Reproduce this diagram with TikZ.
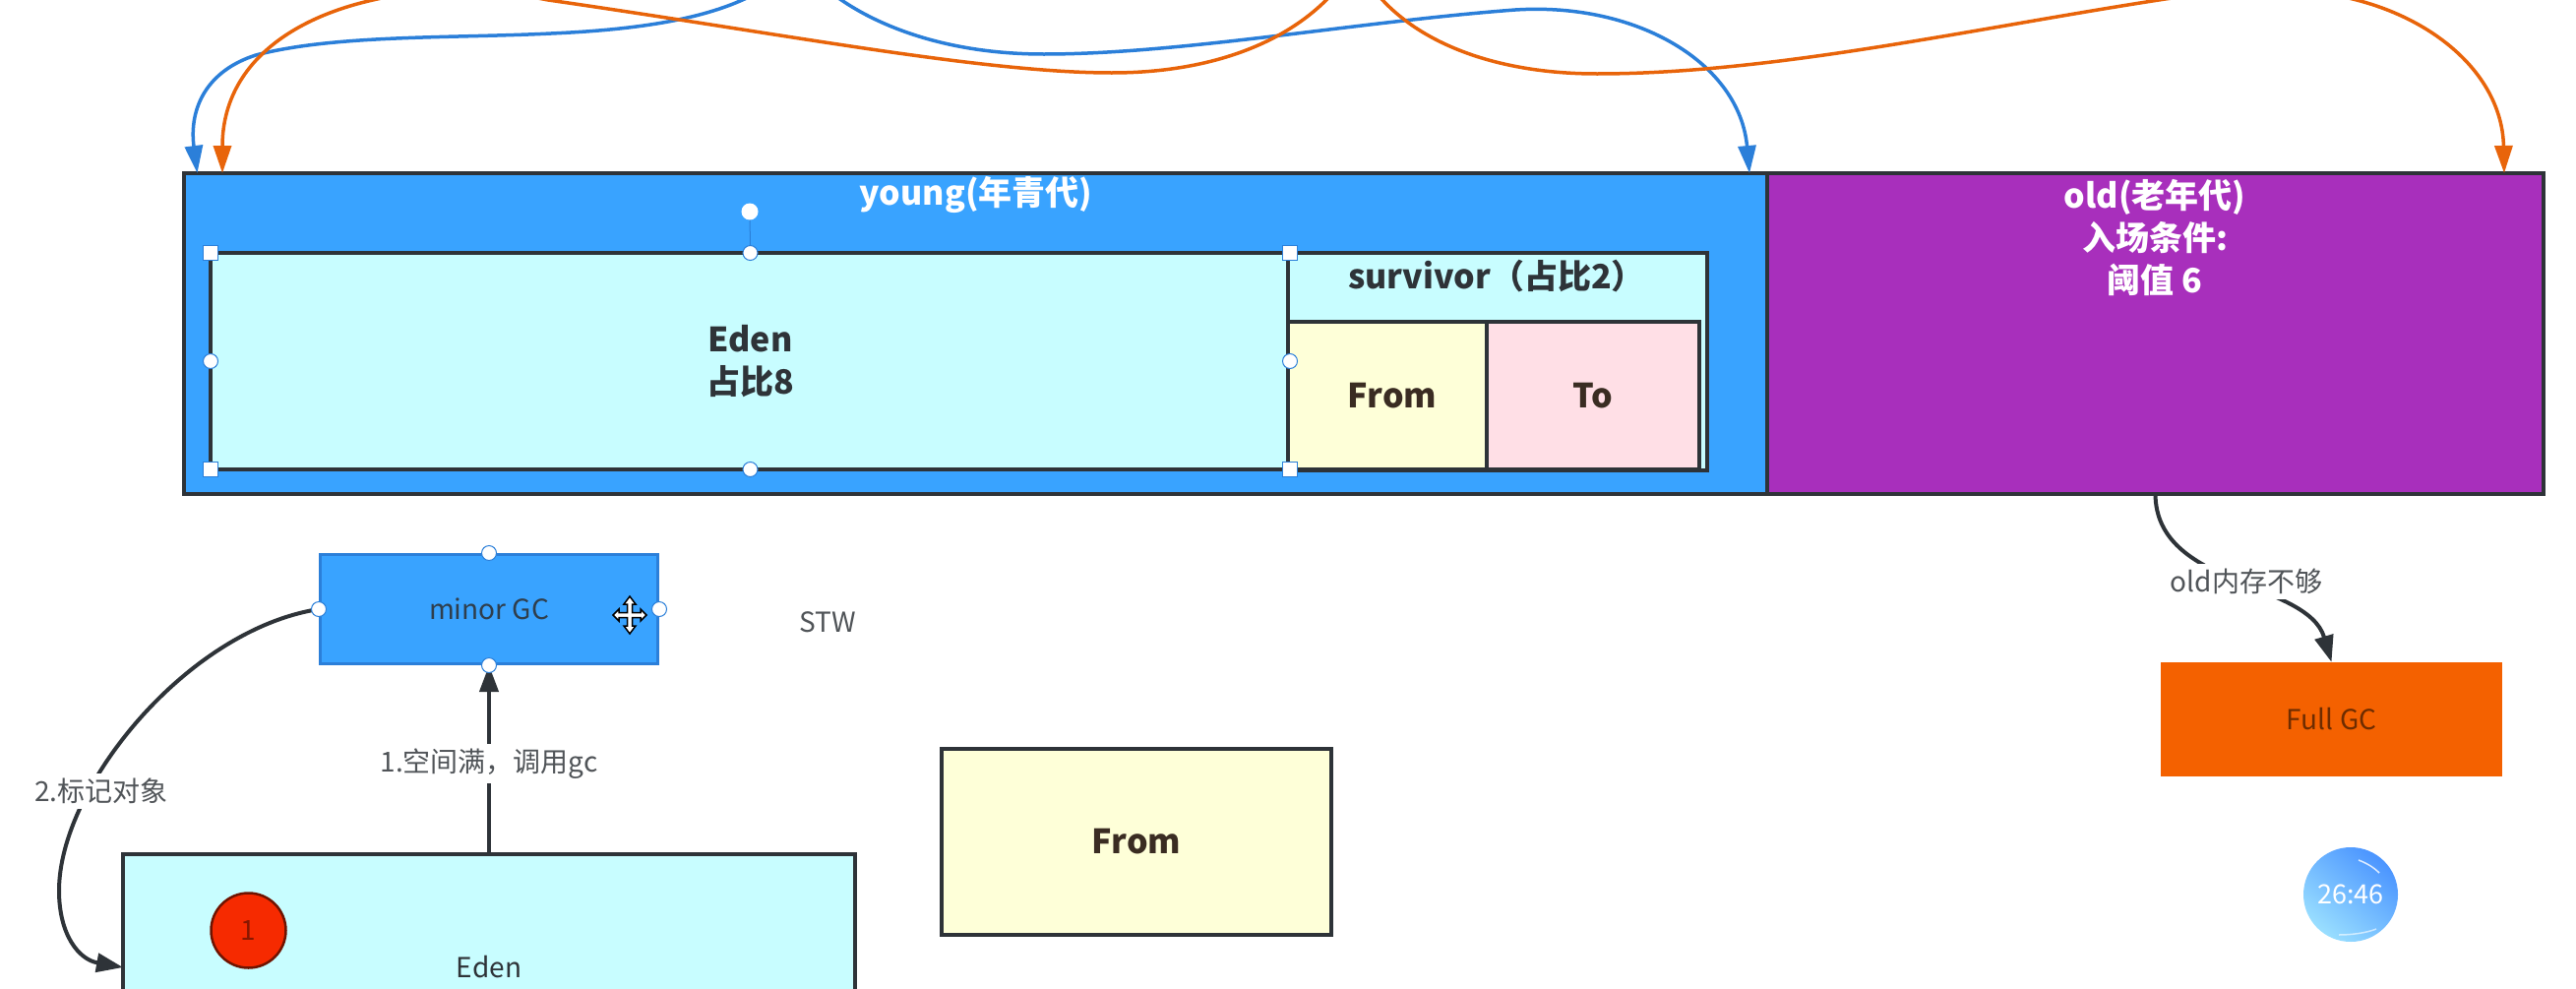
\documentclass[tikz,border=0pt]{standalone}
\usepackage{fontspec}
\setmainfont{Noto Sans CJK SC}
\usetikzlibrary{arrows.meta,calc}

\definecolor{youngblue}{HTML}{39A3FF}
\definecolor{oldpurple}{HTML}{A82FBC}
\definecolor{edencyan}{HTML}{C8FDFF}
\definecolor{fromyellow}{HTML}{FEFFD8}
\definecolor{topink}{HTML}{FFDFE6}
\definecolor{fullorange}{HTML}{F46100}
\definecolor{edgedark}{HTML}{2E3338}
\definecolor{browntext}{HTML}{3A2C22}
\definecolor{arrowblue}{HTML}{2B7FD9}
\definecolor{arroworange}{HTML}{E8640A}
\definecolor{labelgrey}{HTML}{505458}
\definecolor{objred}{HTML}{F62A00}
\definecolor{timerdeep}{HTML}{4A94FF}
\definecolor{timerpale}{HTML}{9ADFFF}

\newcommand{\bigtext}{\fontsize{34}{43}\selectfont\bfseries}
\newcommand{\smalltext}{\fontsize{28}{32}\selectfont}

\tikzset{
	area/.style={draw=edgedark, line width=4.5pt, inner sep=0pt, outer sep=0pt, align=center, font=\bigtext},
	handleround/.style={circle, fill=white, draw=arrowblue, line width=1pt, minimum size=15pt, inner sep=0pt},
	handlesquare/.style={rectangle, fill=white, draw=arrowblue, line width=1pt, minimum size=15pt, inner sep=0pt},
	edgelabel/.style={fill=white, text=labelgrey, font=\smalltext, inner xsep=2pt, inner ysep=5pt},
	blackarrow/.style={draw=edgedark, line width=4pt, -{Triangle[length=27pt,width=19pt]}},
	bluearrow/.style={draw=arrowblue, line width=3.5pt, -{Triangle[length=28pt,width=18pt]}},
	orangearrow/.style={draw=arroworange, line width=3.5pt, -{Triangle[length=28pt,width=18pt]}},
}

\begin{document}
\begin{tikzpicture}[x=1pt,y=-1pt]
\clip (0,0) rectangle (2618,1004);
\fill[white] (0,0) rectangle (2618,1004);

% Heap areas
\node[area, fill=youngblue, minimum width=1609pt, minimum height=326pt] (young) at (991.5,339) {};
\node[area, fill=oldpurple, minimum width=789pt, minimum height=326pt] (old) at (2190.5,339) {};
\node[area, draw=none, text=white] (youngtitle) at (992,198) {young(年青代)};
\node[area, draw=none, text=white] (oldtitle) at (2190,242) {old(老年代)\\入场条件:\\阈值 6};

% Eden and survivor
\node[area, fill=edencyan, text=edgedark, minimum width=1097pt, minimum height=220pt] (eden) at (762.5,367) {Eden\\占比8};
\node[area, fill=edencyan, minimum width=426pt, minimum height=221pt] (survivor) at (1522,367.5) {};
\node[area, draw=none, text=edgedark] (survivortitle) at (1521,281) {survivor（占比2）};
\node[area, fill=fromyellow, text=browntext, minimum width=202pt, minimum height=150pt] (from) at (1410,402) {\hspace{10pt}From};
\node[area, fill=topink, text=browntext, minimum width=216pt, minimum height=150pt] (to) at (1619,402) {To};

% Selection handles of Eden
\foreach \a in {north west,north east,south west,south east}
	\node[handlesquare] (eden \a) at (eden.\a) {};
\foreach \a in {north,south,west,east}
	\node[handleround] (eden \a) at (eden.\a) {};
\node[circle, fill=white, minimum size=17pt, inner sep=0pt] (rotate) at (762,215) {};
\draw[arrowblue, line width=1pt] (rotate) -- (eden north);

% Lower boxes
\node[draw=arrowblue, line width=3pt, fill=youngblue, text=edgedark!90!youngblue, font=\smalltext, minimum width=343pt, minimum height=111pt, inner sep=0pt] (minor) at (497,619) {minor GC};
\node[font=\smalltext, text=labelgrey, inner sep=0pt] (stw) at (841,632) {STW};
\node[area, fill=edencyan, minimum width=744pt, minimum height=230pt, font=\smalltext, text=edgedark] (edenlow) at (497,983) {Eden};
\node[circle, draw=objred!45!black, line width=2.5pt, fill=objred, minimum size=76pt, inner sep=0pt, font=\smalltext, text=objred!55!black] (obj) at (252.5,945.5) {1};
\node[area, fill=fromyellow, text=browntext, minimum width=396pt, minimum height=189pt] (frombig) at (1155,855.5) {From};
\node[fill=fullorange, text=black!55!fullorange, font=\smalltext, minimum width=347pt, minimum height=116pt, inner sep=0pt] (full) at (2369.5,731) {Full GC};

% Arrows between boxes
\draw[blackarrow] (edenlow.north) -- (minor.south) node[edgelabel, pos=0.48] (spacefull) {1.空间满，调用gc};
\draw[blackarrow] (minor.west) .. controls (190,640) and (60,800) .. (60,905) .. controls (60,950) and (80,975) .. (edenlow.west);
\node[edgelabel] (mark) at (103,804) {2.标记对象};
\draw[blackarrow] (old.south) .. controls (2191,597) and (2345,590) .. (full.north);
\node[edgelabel] (oldfull) at (2283,591) {old内存不够};

% Handles of minor GC
\foreach \a in {north,south,west,east}
	\node[handleround] (minor \a) at (minor.\a) {};

% Move cursor
\coordinate (cursor) at (640,625);
\draw[shift={(cursor)}, fill=white, draw=black, line width=1.5pt, line join=miter]
	(0,-19) -- (6,-11) -- (2.5,-11) -- (2.5,-2.5) -- (11,-2.5) -- (11,-6) -- (17,0) -- (11,6) -- (11,2.5) -- (2.5,2.5)
	-- (2.5,11) -- (6,11) -- (0,19) -- (-6,11) -- (-2.5,11) -- (-2.5,2.5) -- (-11,2.5) -- (-11,6) -- (-17,0) -- (-11,-6)
	-- (-11,-2.5) -- (-2.5,-2.5) -- (-2.5,-11) -- (-6,-11) -- cycle;

% Curves coming from above the picture
\coordinate (bluesource) at (812,-40);
\coordinate (orangesource) at (1378,-40);
\coordinate (bluetipa) at ([xshift=13.5pt]young.north west);
\coordinate (orangetipa) at ([xshift=39pt]young.north west);
\coordinate (bluetipb) at ([xshift=-18pt]young.north east);
\coordinate (orangetipb) at ([xshift=-40pt]old.north east);

\draw[bluearrow] (bluesource) .. controls (770,5) and (700,28) .. (560,34) .. controls (460,39) and (340,35) .. (260,56) .. controls (210,72) and (192,110) .. (bluetipa);
\draw[bluearrow] (bluesource) .. controls (845,5) and (930,55) .. (1061,55) .. controls (1200,55) and (1380,22) .. (1540,10) .. controls (1665,2) and (1768,65) .. (bluetipb);
\draw[orangearrow] (orangesource) .. controls (1340,30) and (1250,74) .. (1130,74) .. controls (1000,74) and (800,35) .. (557,0) .. controls (480,-15) and (430,-12) .. (379,0) .. controls (290,20) and (226,70) .. (orangetipa);
\draw[orangearrow] (orangesource) .. controls (1410,30) and (1500,75) .. (1623,75) .. controls (1800,75) and (2000,30) .. (2194,0) .. controls (2250,-9) and (2340,-15) .. (2395,0) .. controls (2480,22) and (2543,80) .. (orangetipb);

% Timer
\node[circle, minimum size=96pt, inner sep=0pt, top color=timerdeep, bottom color=timerpale, shading angle=-40, text=white, font=\fontsize{27}{30}\selectfont] (timer) at (2389,909) {26:46};
\draw[white, line width=1.5pt, opacity=0.8] (2397,874) .. controls (2405,877) and (2412,881) .. (2418,887);
\draw[white, line width=1.5pt, opacity=0.6] (2377,950) .. controls (2390,950) and (2405,948) .. (2415,944);
\end{tikzpicture}
\end{document}
